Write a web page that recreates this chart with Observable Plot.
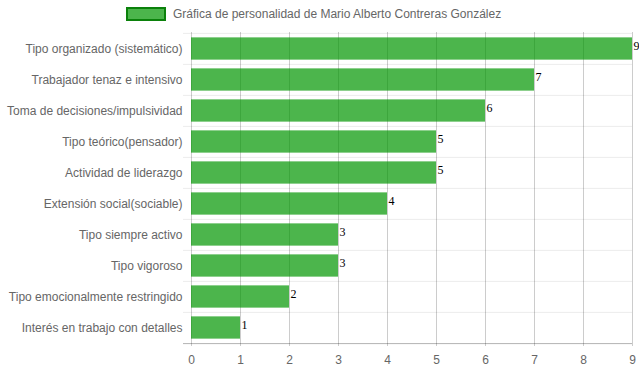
<!DOCTYPE html>
<html>
<head>
<meta charset="utf-8">
<script src="https://cdn.jsdelivr.net/npm/d3@7"></script>
<script src="https://cdn.jsdelivr.net/npm/@observablehq/plot@0.6"></script>
<style>
  html, body { margin: 0; padding: 0; background: #fff; }
  #legend { height: 28px; box-sizing: border-box; padding-top: 7px; padding-left: 126px; display: flex; align-items: flex-start;
    font-family: "Liberation Sans", Arial, sans-serif; font-size: 12px; color: #666; }
  #legend .box { width: 40px; height: 14px; box-sizing: border-box; background: rgba(0,149,0,0.7); border: 2px solid rgba(0,120,0,0.85); }
  #legend .lbl { margin-left: 7px; line-height: 14px; }
</style>
</head>
<body>
<div id="legend"><div class="box"></div><div class="lbl">Gráfica de personalidad de Mario Alberto Contreras González</div></div>
<div id="chart"></div>
<script>
const categories = [
  "Tipo organizado (sistemático)",
  "Trabajador tenaz e intensivo",
  "Toma de decisiones/impulsividad",
  "Tipo teórico(pensador)",
  "Actividad de liderazgo",
  "Extensión social(sociable)",
  "Tipo siempre activo",
  "Tipo vigoroso",
  "Tipo emocionalmente restringido",
  "Interés en trabajo con detalles"
];
const values = [9, 7, 6, 5, 5, 4, 3, 3, 2, 1];
const xTicks = [0, 1, 2, 3, 4, 5, 6, 7, 8, 9];

const data = categories.map((c, i) => ({category: c, value: values[i]}));

const W = 639, H = 344, mT = 4, mB = 28, mL = 191, mR = 7;
const step = (H - mT - mB) / categories.length;
const inset = step * 0.14;

const chart = Plot.plot({
  width: W,
  height: H,
  marginTop: mT,
  marginBottom: mB,
  marginLeft: mL,
  marginRight: mR,
  style: {fontFamily: "'Liberation Sans', Arial, sans-serif", fontSize: "12px", color: "#666", background: "#fff"},
  x: {domain: [0, 9], ticks: xTicks, tickSize: 0, tickPadding: 11, label: null, line: false},
  y: {domain: categories, padding: 0, tickSize: 0, tickPadding: 9, label: null},
  marks: [
    Plot.ruleY(categories, {y: d => d, dy: -step / 2, insetLeft: -8, stroke: "rgba(0,0,0,0.08)"}),
    Plot.ruleX(xTicks, {x: d => d, stroke: "rgba(0,0,0,0.2)", insetBottom: -2}),
    Plot.barX(data, {y: "category", x: "value", fill: "rgb(0,149,0)", fillOpacity: 0.7, insetTop: inset, insetBottom: inset}),
    Plot.ruleY([categories[categories.length - 1]], {dy: step / 2, insetLeft: -8, stroke: "rgba(0,0,0,0.3)"}),
    Plot.text(data, {y: "category", x: "value", text: d => String(d.value), textAnchor: "start", dx: 1, dy: -3,
      fill: "black", fontFamily: "'Liberation Serif', 'Times New Roman', serif", fontSize: 12})
  ]
});
chart.querySelectorAll("g[aria-label='y-axis tick label'] text, g[aria-label='y-axis'] text").forEach(t => t.setAttribute("dy", (parseFloat(t.getAttribute("dy")) || 0) + ""));
document.getElementById("chart").appendChild(chart);
</script>
</body>
</html>
